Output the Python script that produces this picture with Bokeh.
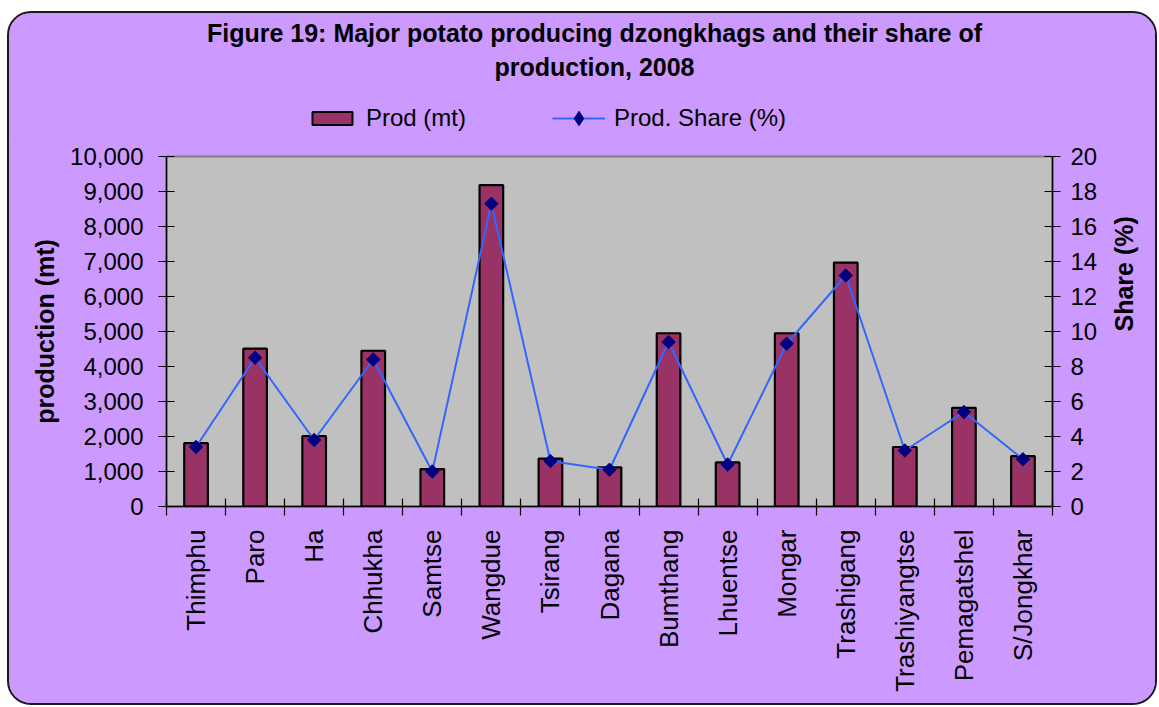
import numpy as np
from math import pi
from bokeh.plotting import figure
from bokeh.layouts import column
from bokeh.models import (ColumnDataSource, Range1d, LinearAxis, FixedTicker,
                          NumeralTickFormatter, Legend, LegendItem, Label)
from bokeh.embed import file_html
from bokeh.resources import INLINE

# ---- data ----
dzongkhags = ["Thimphu", "Paro", "Ha", "Chhukha", "Samtse", "Wangdue", "Tsirang",
              "Dagana", "Bumthang", "Lhuentse", "Mongar", "Trashigang",
              "Trashiyangtse", "Pemagatshel", "S/Jongkhar"]
prod_mt = [1810, 4510, 2010, 4450, 1070, 9180, 1370, 1120, 4950, 1260, 4950, 6970,
           1700, 2820, 1440]
share_pct = [3.4, 8.5, 3.8, 8.4, 2.0, 17.3, 2.6, 2.1, 9.4, 2.4, 9.3, 13.2, 3.2, 5.4, 2.7]
left_ticks = list(range(0, 10001, 1000))
right_ticks = list(range(0, 21, 2))

title_line1 = "Figure 19: Major potato producing dzongkhags and their share of"
title_line2 = "production, 2008"
legend_labels = ["Prod (mt)", "Prod. Share (%)"]

n = len(dzongkhags)
xpos = [i + 0.5 for i in range(n)]
source = ColumnDataSource(dict(x=xpos, prod=prod_mt, share=share_pct, name=dzongkhags))

FONT = "Liberation Sans"
PURPLE = "#CC99FF"
BAR_COLOR = "#993366"
LINE_COLOR = "#3366FF"
MARK_COLOR = "#000080"
W = 1146
ML, MR = 157, 98

# ---------------- header: title + legend ----------------
hdr = figure(width=W, height=129, output_backend="svg", toolbar_location=None,
             x_range=Range1d(0, 1), y_range=Range1d(0, 1),
             min_border=0, min_border_left=ML, min_border_right=MR,
             x_axis_location=None, y_axis_location=None, title_location=None)
hdr.border_fill_color = PURPLE
hdr.background_fill_color = PURPLE
hdr.outline_line_color = None
hdr.grid.visible = False

for txt, yy in [(title_line1, 110), (title_line2, 76)]:
    hdr.add_layout(Label(x=428, y=yy, x_units="screen", y_units="screen", text=txt,
                         text_align="center", text_baseline="middle",
                         text_font=FONT, text_font_style="bold",
                         text_font_size="25px", text_color="black"))

# legend proxies (kept outside the visible ranges of the header)
proxy = ColumnDataSource(dict(x=[-5.0], y=[-5.0], top=[-5.0]))
lg_bar = hdr.vbar(x="x", top="top", width=0.4, source=proxy, fill_color=BAR_COLOR,
                  line_color="black", line_width=2)
lg_line = hdr.line(x="x", y="y", source=proxy, line_color=LINE_COLOR, line_width=2)
lg_pts = hdr.scatter(x="x", y="y", source=proxy, marker="diamond", size=14,
                     fill_color=MARK_COLOR, line_color=MARK_COLOR)

common = dict(orientation="horizontal", background_fill_alpha=0, border_line_alpha=0,
              padding=0, margin=0, label_text_font=FONT, label_text_font_size="24px",
              label_text_color="black", label_standoff=9)
legend_a = Legend(items=[LegendItem(label=legend_labels[0], renderers=[lg_bar])],
                  location=(141, 10), glyph_width=50, glyph_height=16, **common)
legend_b = Legend(items=[LegendItem(label=legend_labels[1], renderers=[lg_line, lg_pts])],
                  location=(386, 6), glyph_width=53, glyph_height=36, **common)
hdr.add_layout(legend_a, "center")
hdr.add_layout(legend_b, "center")

# ---------------- main chart ----------------
p = figure(width=W, height=561, output_backend="svg", toolbar_location=None,
           x_range=Range1d(0, n), y_range=Range1d(0, 10000),
           min_border_left=ML, min_border_right=MR, min_border_top=14,
           min_border_bottom=197, x_axis_location=None, y_axis_location=None,
           title_location=None)
p.border_fill_color = PURPLE
p.background_fill_color = "#C0C0C0"
p.outline_line_color = "#808080"
p.outline_line_width = 2
p.grid.visible = False
p.extra_y_ranges = {"share": Range1d(0, 20)}


def style_axis(ax):
    ax.axis_line_color = "black"
    ax.axis_line_width = 1.5
    ax.major_tick_line_color = "black"
    ax.major_tick_line_width = 1.2
    ax.minor_tick_line_color = "black"
    ax.minor_tick_line_width = 1.2
    ax.major_label_text_font = FONT
    ax.major_label_text_color = "black"
    ax.axis_label_text_font = FONT
    ax.axis_label_text_font_style = "bold"
    ax.axis_label_text_color = "black"
    ax.axis_label_text_font_size = "25px"


yl = LinearAxis(ticker=FixedTicker(ticks=left_ticks),
                formatter=NumeralTickFormatter(format="0,0"))
style_axis(yl)
yl.major_tick_in = 8
yl.major_tick_out = 8
yl.minor_tick_in = 0
yl.minor_tick_out = 0
yl.major_label_standoff = 15
yl.major_label_text_font_size = "24px"
yl.axis_label = "production (mt)"
yl.axis_label_standoff = 8
p.add_layout(yl, "left")

yr = LinearAxis(y_range_name="share", ticker=FixedTicker(ticks=right_ticks))
style_axis(yr)
yr.major_tick_in = 8
yr.major_tick_out = 8
yr.minor_tick_in = 0
yr.minor_tick_out = 0
yr.major_label_standoff = 10
yr.major_label_text_font_size = "24px"
yr.axis_label = "Share (%)"
yr.axis_label_standoff = 24
if hasattr(yr, "axis_label_orientation"):
    yr.axis_label_orientation = pi / 2
p.add_layout(yr, "right")

xa = LinearAxis(ticker=FixedTicker(ticks=xpos, minor_ticks=list(range(0, n + 1))),
                major_label_overrides={x: name for x, name in zip(xpos, dzongkhags)})
style_axis(xa)
xa.major_tick_in = 0
xa.major_tick_out = 0
xa.minor_tick_in = 8
xa.minor_tick_out = 9
xa.major_label_standoff = 14
xa.major_label_orientation = pi / 2
xa.major_label_text_font_size = "26px"
p.add_layout(xa, "below")

bars = p.vbar(x="x", top="prod", width=0.4, source=source, fill_color=BAR_COLOR,
              line_color="black", line_width=2.2)
ln = p.line(x="x", y="share", source=source, y_range_name="share",
            line_color=LINE_COLOR, line_width=2)
pts = p.scatter(x="x", y="share", source=source, y_range_name="share",
                marker="square", angle=pi / 4, size=9.5,
                fill_color=MARK_COLOR, line_color=MARK_COLOR)

layout = column(hdr, p, spacing=0)
layout.styles = {"border-radius": "24px", "overflow": "hidden",
                 "border": "2px solid #1a1a1a", "margin-left": "7px",
                 "margin-top": "11px", "background-color": PURPLE}

open("out.html", "w").write(file_html(layout, INLINE))
